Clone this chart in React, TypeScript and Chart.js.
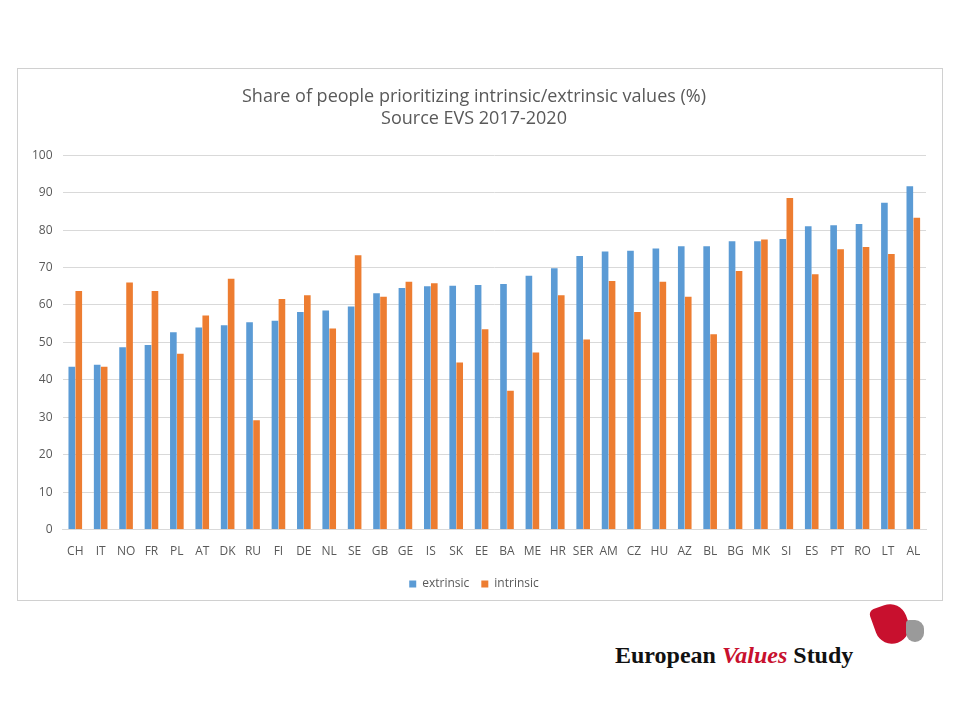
import React, { useEffect, useRef } from "react";
import { Chart, registerables } from "chart.js";
Chart.register(...registerables);

const categories = ["CH","IT","NO","FR","PL","AT","DK","RU","FI","DE","NL","SE","GB","GE","IS","SK","EE","BA","ME","HR","SER","AM","CZ","HU","AZ","BL","BG","MK","SI","ES","PT","RO","LT","AL"];
const extrinsic = [43.5,44,48.7,49.3,52.7,54,54.6,55.4,55.8,58.1,58.5,59.6,63.1,64.5,65,65.1,65.3,65.6,67.8,69.8,73.1,74.3,74.5,75.1,75.7,75.7,77,77,77.6,81,81.3,81.6,87.3,91.7];
const intrinsic = [63.7,43.5,66,63.7,47,57.2,67,29.2,61.6,62.6,53.7,73.3,62.2,66.2,65.8,44.6,53.5,37.1,47.3,62.6,50.8,66.4,58.1,66.2,62.2,52.2,69.1,77.5,88.6,68.2,74.9,75.5,73.6,83.3];

export default function App() {
  const ref = useRef<HTMLCanvasElement>(null);
  useEffect(() => {
    const c = new Chart(ref.current!, {
      type: "bar",
      data: {
        labels: categories,
        datasets: [
          { label: "extrinsic", data: extrinsic, backgroundColor: "#5B9BD5", categoryPercentage: 0.55, barPercentage: 0.95 },
          { label: "intrinsic", data: intrinsic, backgroundColor: "#ED7D31", categoryPercentage: 0.55, barPercentage: 0.95 },
        ],
      },
      options: {
        animation: false,
        responsive: false,
        maintainAspectRatio: false,
        layout: { padding: { left: 4, right: 16, top: 6, bottom: 0 } },
        plugins: {
          title: {
            display: true,
            text: ["Share of people prioritizing intrinsic/extrinsic values (%)", "Source EVS 2017-2020"],
            color: "#595959",
            font: { family: "Open Sans", size: 18, weight: "normal" },
            padding: { top: 11, bottom: 26 },
          },
          legend: {
            position: "bottom",
            labels: { boxWidth: 7, boxHeight: 7, color: "#595959", font: { family: "Open Sans", size: 12 }, padding: 12 },
          },
          tooltip: { enabled: false },
        },
        scales: {
          x: {
            grid: { display: false },
            border: { color: "#d9d9d9" },
            ticks: { color: "#595959", font: { family: "Open Sans", size: 12 }, maxRotation: 0, autoSkip: false, padding: 7 },
          },
          y: {
            min: 0, max: 100,
            ticks: { stepSize: 10, color: "#595959", font: { family: "Open Sans", size: 12 }, padding: 10 },
            grid: { color: "#d9d9d9", drawTicks: false },
            border: { display: false },
          },
        },
      },
    });
    return () => c.destroy();
  }, []);
  return (
    <div style={{ position: "relative", width: 944, height: 704 }}>
      <div style={{ position: "absolute", left: 9, top: 60, width: 924, height: 531, border: "1px solid #d0d0d0" }}>
        <canvas ref={ref} width={924} height={531} />
      </div>
      <div style={{ position: "absolute", left: 607, top: 634, fontFamily: "Liberation Serif", fontWeight: "bold", fontSize: 24, color: "#111" }}>
        European <span style={{ color: "#c8102e", fontStyle: "italic" }}>Values</span> Study
      </div>
      <div style={{ position: "absolute", left: 866, top: 596, width: 34, height: 40, background: "#c8102e", borderRadius: "6px 18px 18px 18px", transform: "rotate(-20deg)" }} />
      <div style={{ position: "absolute", left: 898, top: 612, width: 18, height: 22, background: "#9a9a9a", borderRadius: "4px 10px 10px 10px" }} />
    </div>
  );
}
